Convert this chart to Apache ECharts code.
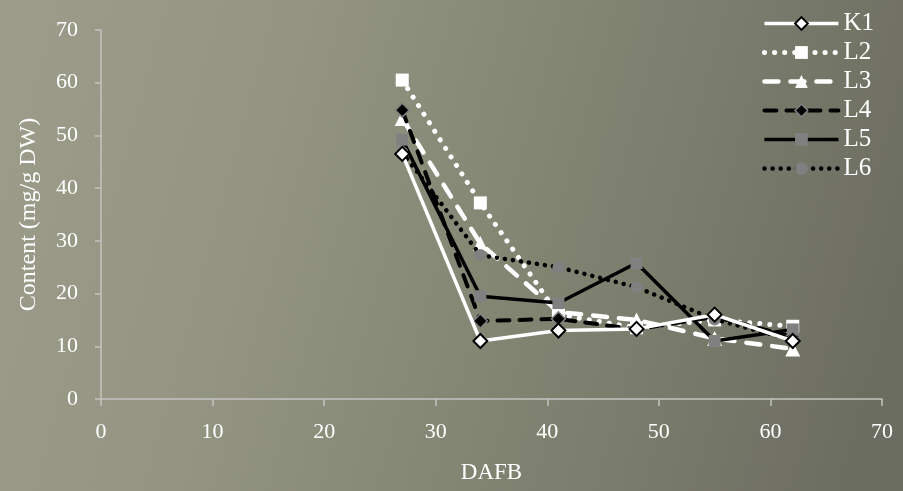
<!DOCTYPE html>
<html>
<head>
<meta charset="utf-8">
<script src="https://cdn.jsdelivr.net/npm/echarts@6/dist/echarts.min.js"></script>
<style>
html, body { margin: 0; padding: 0; }
#chart { width: 903px; height: 491px; }
</style>
</head>
<body>
<div id="chart"></div>
<script>
var days = [27, 34, 41, 48, 55, 62];
var k1 = [46.5, 11.0, 13.0, 13.3, 16.0, 11.0];
var l2 = [60.5, 37.2, 16.0, 13.5, 15.0, 13.8];
var l3 = [53.2, 29.5, 16.5, 15.0, 11.5, 9.5];
var l4 = [54.8, 14.8, 15.2, 13.2, 15.6, 11.8];
var l5 = [49.2, 19.5, 18.2, 25.8, 11.0, 13.2];
var l6 = [46.8, 27.3, 25.0, 21.2, 15.1, 11.2];
var yTicks = [0, 10, 20, 30, 40, 50, 60, 70];

function pairs(vals) {
    return vals.map(function (v, i) { return [days[i], v]; });
}

var chart = echarts.init(document.getElementById('chart'));
var font = 'Liberation Serif';

var option = {
    animation: false,
    backgroundColor: {
        type: 'linear', x: 0, y: 0.1, x2: 1, y2: 0.6,
        colorStops: [
            { offset: 0, color: '#9b9d8a' },
            { offset: 0.3, color: '#939582' },
            { offset: 0.6, color: '#838573' },
            { offset: 1, color: '#6c6d61' }
        ]
    },
    grid: { left: 101, right: 21, top: 30, bottom: 92 },
    legend: {
        orient: 'vertical',
        right: 24,
        top: 6,
        itemWidth: 74,
        itemHeight: 16,
        itemGap: 4,
        lineStyle: { width: 'inherit' },
        itemStyle: { borderWidth: 'inherit' },
        textStyle: { color: '#ffffff', fontFamily: font, fontSize: 25 },
        data: ['K1', 'L2', 'L3', 'L4', 'L5', 'L6']
    },
    xAxis: {
        type: 'value',
        min: 0, max: 70, interval: 10,
        name: 'DAFB',
        nameLocation: 'middle',
        nameGap: 62,
        nameTextStyle: { color: '#ffffff', fontFamily: font, fontSize: 23 },
        axisLine: { show: true, lineStyle: { color: '#c4c4c0', width: 1.5 } },
        axisTick: { show: true, length: 7, lineStyle: { color: '#c4c4c0', width: 1.5 } },
        axisLabel: { color: '#ffffff', fontFamily: font, fontSize: 22, margin: 22 },
        splitLine: { show: false }
    },
    yAxis: {
        type: 'value',
        min: yTicks[0], max: yTicks[yTicks.length - 1], interval: 10,
        name: 'Content (mg/g DW)',
        nameLocation: 'middle',
        nameGap: 60,
        nameTextStyle: { color: '#ffffff', fontFamily: font, fontSize: 24 },
        axisLine: { show: true, lineStyle: { color: '#c4c4c0', width: 1.5 } },
        axisTick: { show: true, length: 6, lineStyle: { color: '#c4c4c0', width: 1.5 } },
        axisLabel: { color: '#ffffff', fontFamily: font, fontSize: 22, margin: 23 },
        splitLine: { show: false }
    },
    series: [
        {
            name: 'K1', type: 'line', data: pairs(k1),
            symbol: 'diamond', symbolSize: 14,
            lineStyle: { color: '#ffffff', width: 3.5 },
            itemStyle: { color: '#ffffff', borderColor: '#000000', borderWidth: 2 },
            z: 8
        },
        {
            name: 'L2', type: 'line', data: pairs(l2),
            symbol: 'rect', symbolSize: 13,
            lineStyle: { color: '#ffffff', width: 5, type: [0.1, 10], cap: 'round' },
            itemStyle: { color: '#ffffff', borderWidth: 0 },
            z: 3
        },
        {
            name: 'L3', type: 'line', data: pairs(l3),
            symbol: 'triangle', symbolSize: 15,
            lineStyle: { color: '#ffffff', width: 4.5, type: [14, 12], cap: 'round' },
            itemStyle: { color: '#ffffff', borderWidth: 0 },
            z: 4
        },
        {
            name: 'L4', type: 'line', data: pairs(l4),
            symbol: 'diamond', symbolSize: 14,
            lineStyle: { color: '#000000', width: 4, type: [12, 10], cap: 'round' },
            itemStyle: { color: '#000000', borderColor: '#808080', borderWidth: 1.5 },
            z: 5
        },
        {
            name: 'L5', type: 'line', data: pairs(l5),
            symbol: 'rect', symbolSize: 12,
            lineStyle: { color: '#000000', width: 3.5 },
            itemStyle: { color: '#808080', borderWidth: 0 },
            z: 6
        },
        {
            name: 'L6', type: 'line', data: pairs(l6),
            symbol: 'circle', symbolSize: 12,
            lineStyle: { color: '#000000', width: 4.5, type: [0.1, 8], cap: 'round' },
            itemStyle: { color: '#808080', borderWidth: 0 },
            z: 7
        }
    ]
};
chart.setOption(option);
</script>
</body>
</html>
